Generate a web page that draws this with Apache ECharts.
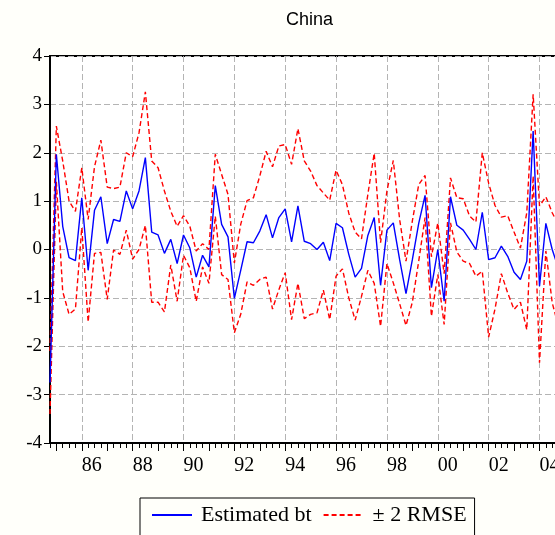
<!DOCTYPE html>
<html>
<head>
<meta charset="utf-8">
<script src="https://cdn.jsdelivr.net/npm/echarts@6/dist/echarts.min.js"></script>
<style>
  html, body { margin: 0; padding: 0; background: #fffffa; }
  #chinaChart { width: 555px; height: 535px; }
</style>
</head>
<body>
<div id="chinaChart"></div>
<script>
  // quarterly sample, 1984Q4 onwards (axis runs a little past the visible edge)
  var firstYear = 1984, firstQuarter = 4, nQuarters = 85
  var quarters = []
  for (var k = 0; k < nQuarters; k++) {
    var q = firstQuarter - 1 + k
    quarters.push((firstYear + Math.floor(q / 4)) + 'Q' + (q % 4 + 1))
  }

  var estimated = [
    -2.75, 1.97, 0.48, -0.17, -0.23, 1.07, -0.43, 0.81, 1.09, 0.12,
    0.62, 0.58, 1.21, 0.84, 1.21, 1.90, 0.36, 0.30, -0.08, 0.21,
    -0.29, 0.30, 0.03, -0.57, -0.12, -0.36, 1.32, 0.52, 0.26, -1.01,
    -0.43, 0.16, 0.14, 0.38, 0.72, 0.24, 0.66, 0.84, 0.16, 0.90,
    0.17, 0.12, 0.00, 0.15, -0.23, 0.54, 0.45, -0.10, -0.57, -0.39,
    0.29, 0.66, -0.74, 0.40, 0.55, -0.21, -0.91, -0.21, 0.54, 1.12,
    -0.79, 0.00, -1.07, 1.09, 0.50, 0.40, 0.21, 0.00, 0.77, -0.21,
    -0.17, 0.07, -0.14, -0.47, -0.62, -0.24, 2.45, -0.76, 0.54, 0.00,
    -0.40
  ]
  var upperBand = [
    -2.10, 2.55, 1.83, 1.00, 0.79, 1.69, 0.62, 1.71, 2.26, 1.29,
    1.26, 1.29, 2.00, 1.92, 2.41, 3.26, 1.83, 1.69, 1.21, 0.79,
    0.48, 0.70, 0.48, -0.03, 0.12, 0.00, 1.97, 1.55, 1.14, -0.28,
    0.52, 1.01, 1.07, 1.52, 2.03, 1.71, 2.14, 2.17, 1.76, 2.50,
    1.83, 1.62, 1.32, 1.17, 1.02, 1.64, 1.34, 0.75, 0.36, 0.22,
    1.14, 1.99, 0.14, 1.21, 1.84, 0.62, -0.24, 0.59, 1.34, 1.53,
    -0.15, 0.55, -0.50, 1.48, 1.07, 1.05, 0.69, 0.57, 2.00, 1.37,
    0.91, 0.67, 0.70, 0.36, 0.03, 0.76, 3.21, 0.90, 1.09, 0.76,
    0.50
  ]
  var lowerBand = [
    -3.40, 1.40, -0.87, -1.34, -1.23, 0.45, -1.50, -0.08, -0.06, -1.03,
    -0.01, -0.10, 0.40, -0.20, 0.00, 0.50, -1.09, -1.09, -1.29, -0.32,
    -1.07, -0.12, -0.38, -1.07, -0.36, -0.70, 0.69, -0.52, -0.62, -1.72,
    -1.34, -0.67, -0.74, -0.62, -0.57, -1.23, -0.83, -0.48, -1.45, -0.70,
    -1.43, -1.34, -1.31, -0.84, -1.45, -0.55, -0.40, -1.00, -1.46, -0.97,
    -0.43, -0.70, -1.59, -0.29, -0.69, -1.12, -1.57, -1.09, -0.24, 0.66,
    -1.38, -0.52, -1.55, 0.55, -0.05, -0.24, -0.29, -0.55, -0.45, -1.81,
    -1.23, -0.50, -0.90, -1.24, -1.09, -1.66, 1.52, -2.34, -0.03, -1.10,
    -1.60
  ]
  var yTicks = [-4, -3, -2, -1, 0, 1, 2, 3, 4]

  var serif = 'Liberation Serif'
  var isQ1 = function (idx) { return /Q1$/.test(quarters[idx]) }
  var isEvenYearStart = function (idx) {
    return isQ1(idx) && parseInt(quarters[idx], 10) % 2 === 0
  }

  var chart = echarts.init(document.getElementById('chinaChart'))
  chart.setOption({
    backgroundColor: '#fffffa',
    animation: false,
    title: {
      text: 'China',
      left: 281,
      top: 6,
      textStyle: { fontFamily: 'Liberation Sans', fontWeight: 'normal', fontSize: 18, color: '#000' }
    },
    legend: {
      data: ['Estimated bt', '± 2 RMSE'],
      left: 140,
      top: 498,
      padding: [6, 8, 20, 11],
      borderColor: '#000',
      borderWidth: 1,
      itemWidth: 40,
      itemHeight: 14,
      itemGap: 11,
      itemStyle: { opacity: 0 },
      textStyle: { fontFamily: serif, fontSize: 22, color: '#000', padding: [0, 0, 0, 4] }
    },
    grid: {
      left: 50,
      top: 56,
      bottom: 92,
      width: 534,   // plot runs past the right edge of the picture
      outerBoundsMode: 'none',
      show: true,
      backgroundColor: '#ffffff',
      borderColor: '#000',
      borderWidth: 2
    },
    xAxis: [
      {
        type: 'category',
        data: quarters,
        boundaryGap: false,
        axisLine: { onZero: false, lineStyle: { color: '#000', width: 2 } },
        axisTick: { length: 5, interval: 0, lineStyle: { color: '#000' } },
        axisLabel: {
          interval: function (idx) { return isEvenYearStart(idx) },
          formatter: function (v) { return v.slice(2, 4) },
          align: 'left',
          fontFamily: serif, fontSize: 20, color: '#000', margin: 13
        },
        splitLine: {
          show: true,
          interval: function (idx) { return isEvenYearStart(idx) },
          lineStyle: { color: '#b4b4b4', type: [6, 3], width: 1 }
        }
      },
      {
        // longer ticks at the start of each year
        type: 'category',
        data: quarters,
        boundaryGap: false,
        position: 'bottom',
        axisLine: { show: false, onZero: false },
        axisTick: { length: 8, interval: function (idx) { return isQ1(idx) }, lineStyle: { color: '#000' } },
        axisLabel: { show: false },
        splitLine: { show: false }
      }
    ],
    yAxis: {
      type: 'value',
      min: yTicks[0],
      max: yTicks[yTicks.length - 1],
      interval: 1,
      axisLine: { show: true, lineStyle: { color: '#000', width: 2 } },
      axisTick: { show: true, length: 6, lineStyle: { color: '#000' } },
      axisLabel: { fontFamily: serif, fontSize: 19, color: '#000', margin: 8 },
      splitLine: { lineStyle: { color: '#b4b4b4', type: [6, 3], width: 1 } }
    },
    series: [
      {
        name: 'Estimated bt',
        type: 'line',
        data: estimated,
        symbol: 'none',
        color: '#0000ff',
        lineStyle: { width: 1.4, color: '#0000ff' },
        z: 3
      },
      {
        name: '± 2 RMSE',
        type: 'line',
        data: upperBand,
        symbol: 'none',
        color: '#ff0000',
        lineStyle: { width: 1.4, color: '#ff0000', type: [5, 3] },
        z: 2
      },
      {
        name: '± 2 RMSE',
        type: 'line',
        data: lowerBand,
        symbol: 'none',
        color: '#ff0000',
        lineStyle: { width: 1.4, color: '#ff0000', type: [5, 3] },
        z: 2
      }
    ]
  })
</script>
</body>
</html>
